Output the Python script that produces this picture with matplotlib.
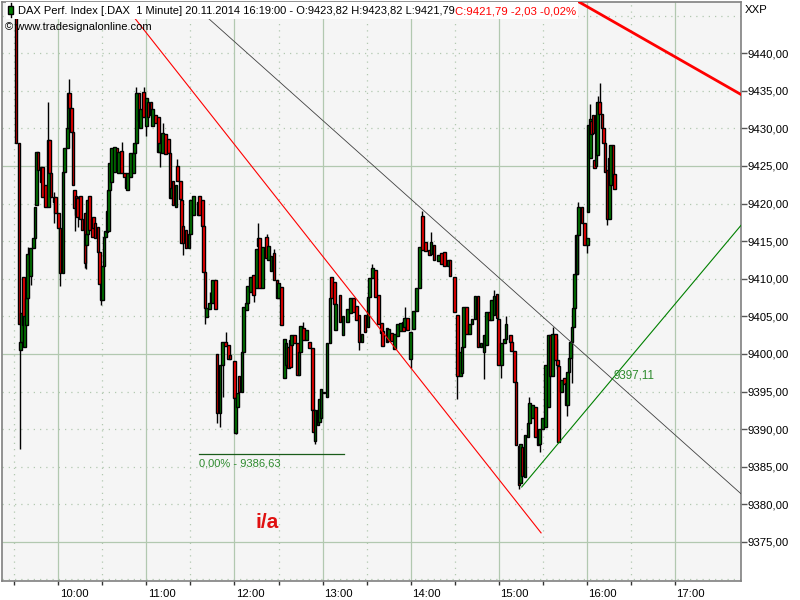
import matplotlib
matplotlib.use("Agg")
import matplotlib.pyplot as plt
import matplotlib.transforms as mtrans
from matplotlib.patches import Rectangle

# all times are minutes after 09:00
bar_minutes = [31,33,34,35,36,37,38,39,41,43, 44,45,46,48,49,51,53,54,55,57,
    58,60,61,63,64,66,66.5,67.5,69,70, 71,72,73,75,76,78,79,80,81,83,
    84,85,87,88,89,90,91,92,93,94, 95,96,98,100,101,103,105,106,107,109,
    111,112,113,115,116,118,120,121,123,124, 126,128,129,131,133,135,136,137,138,140,
    141,143,144,145,147,149,150,152,155,156, 158,159,160,161,163,165,167,168,170,172,
    174,176,177,180,180.5,182,183,185,186,188, 189,191,193,195,196,197,199,202,203,205,
    207,209,210,212,214,215,217,218,219,221, 223,224,225,227,229,231,233,234,235,237,
    238,239,241,243,245,246,248,249,252,254, 257,259,261,263,265,267,269,271,272,274,
    276,278,280,281,284,285,287,289,291,293, 295,296,298,300,302,304,306,308,310,313,
    314,316,319,321,323,326,327,330,332,334, 335,336,338,340,342,344,346,348,350,352,
    354,355,357,359,360,362,364,365,368,369, 371,372,374,375,376,378,380,381,383,385,
    387,388,390,392,394,395,397,399,400,401, 403,405,406,407,408,409,410,411,412,413,
    413.5,414.5,417,418.5,420.5,421,422.5,423.5,424.5,425.5, 426.5,427.5,429,430.5,431.5,432.5,434,435.5,436.5,438,
    439]
opens = [9452,9428,9400.5,9401.6,9410.2,9400.9,9403.8,9407.4,9410.4,9414.1, 9415.4,9419.8,9426.8,9422.8,9424.8,9422.5,9419.5,9428.4,9424,9420.9,
    9420.9,9418.7,9416.8,9410.7,9424.2,9427.4,9430,9434.7,9432.7,9429.5, 9421.8,9421,9420.8,9421,9418,9418.7,9414.5,9416,9421,9418,
    9418.2,9417.4,9416.9,9413.5,9409.3,9407.2,9411.7,9415.5,9416.2,9416.3, 9421.8,9422.8,9424.2,9427.4,9424,9427,9424,9423.4,9421.8,9423.5,
    9424,9426.7,9428,9434.7,9430,9434.8,9430.3,9433.5,9433.5,9430.3, 9431.8,9431.5,9426.8,9426.7,9429.2,9428.6,9426.7,9420.7,9423,9419.5,
    9425,9423,9420.5,9417,9416.5,9414.1,9416,9418.5,9418.5,9421, 9420.5,9417,9410.9,9404.9,9406,9406.8,9409.8,9400,9392.2,9398.5,
    9401.6,9401.2,9399.8,9399,9389.5,9393,9397,9394.9,9400.3,9405.9, 9406.8,9408.3,9410.5,9408.7,9414.4,9415.4,9408.7,9415.5,9412.5,9411,
    9413.4,9409.8,9407.4,9408.9,9396.8,9398.5,9400.9,9401.8,9401.2,9402.5, 9401.4,9397.2,9400.2,9403.4,9401.9,9401.6,9400.8,9392.5,9388.4,9390.6,
    9391,9391.5,9395,9394.3,9401.4,9410.2,9409.5,9403.2,9407.8,9402.5, 9404.3,9405.4,9407.4,9406.4,9405.2,9401.6,9405.2,9403.6,9407.6,9410.1,
    9411.1,9407.8,9404.1,9403,9403.4,9401.7,9402.8,9400.6,9402.4,9403, 9404.3,9403.6,9404.8,9399.3,9403.3,9405.7,9408.7,9418.3,9414.9,9413.8,
    9413.3,9414.5,9412.3,9413.4,9413.5,9411.7,9412.5,9410.2,9405.2,9397, 9397.4,9400.9,9406.2,9402.7,9404,9404.6,9407.7,9400.9,9400.2,9401.2,
    9405.6,9404.5,9405.2,9408,9404.6,9398.5,9401.4,9402,9402.5,9401.6, 9400.4,9396.2,9387.8,9382.8,9387.6,9383.6,9389,9390.8,9391.5,9392.9,
    9389.9,9388,9390,9390.3,9392.9,9402.5,9397,9402.6,9399.2,9398.4, 9395,9396.8,9396.1,9393.2,9397.6,9399.5,9401.6,9403.6,9406.1,9410.6,
    9410.6,9415.8,9419.5,9417.4,9414.5,9418.9,9426,9431,9431.8,9425.8, 9425,9426.4,9433.5,9431.9,9430,9428,9424.4,9418,9422.4,9427.8,
    9423.9]
closes = [9428,9404,9401.6,9405.4,9403.8,9405,9407.4,9413.3,9414.1,9415.4, 9419.5,9426.8,9424.4,9424.8,9420.9,9419.5,9428.4,9424,9420.9,9420.2,
    9418.7,9416.8,9410.7,9424.2,9427.4,9430,9434.7,9432.7,9429.5,9422.4, 9419.4,9418.5,9418.2,9418,9416.5,9412.1,9416,9420.5,9416.5,9415.5,
    9416.7,9415.4,9413.5,9409.3,9407.2,9411.7,9415.5,9416.4,9419,9421.8, 9425.4,9427.4,9427.5,9424.5,9426.8,9424,9423.5,9422,9424,9426.7,
    9426.7,9428,9434.7,9431,9432.6,9431.5,9434,9431.5,9431.8,9432.6, 9430.7,9426.8,9428,9429.4,9426.6,9426.7,9420.7,9422,9419.8,9422.5,
    9423,9420.6,9414.7,9414.7,9414.1,9416,9420.5,9421,9420.2,9418.5, 9417,9410.9,9406.1,9406.1,9406.8,9409.8,9406,9392.1,9398.5,9401.6,
    9401,9399.3,9399.3,9394.1,9394.1,9394.8,9395,9400.3,9406.2,9406.8, 9409,9410.2,9407.8,9414,9415.4,9408.7,9414.2,9412.7,9414.4,9413,
    9409.8,9407.4,9409.4,9403.8,9402,9401.5,9398.1,9398.2,9402.5,9401.4, 9397.2,9400.2,9403.7,9401.9,9403.2,9400.8,9392.5,9389.6,9392.5,9392.5,
    9394,9395.3,9394.8,9401.4,9407.4,9407.4,9406.6,9406.6,9404.2,9405, 9406,9407.4,9405.6,9404.5,9401.6,9402.7,9402.9,9407.6,9410.1,9411.4,
    9407.6,9404,9402.8,9401,9401.6,9403.3,9401.7,9402.6,9404,9404.1, 9403,9404.8,9403.2,9402.9,9405.7,9408.7,9414.2,9413.8,9413.7,9413.2,
    9414.9,9412.5,9413.2,9412,9411.7,9412.5,9410.3,9405.6,9397,9400.2, 9400.9,9406.2,9402.7,9404,9404.6,9407.7,9400.9,9401.4,9402.5,9405.6,
    9404.5,9407.2,9407.7,9404.8,9398.5,9401.4,9402,9404,9401.6,9400.4, 9396.2,9387.9,9382.6,9388,9383.8,9389.2,9390.8,9393.5,9393.2,9388.9,
    9387.9,9390,9391.5,9398.5,9402.5,9397,9402.6,9399.2,9398.5,9388.3, 9396.5,9396,9393.2,9397.6,9399.5,9401.6,9403.6,9406.1,9410.6,9415.8,
    9415.8,9419.5,9417.4,9414.5,9415.4,9430.4,9431.3,9429.2,9429.4,9424.7, 9431.8,9433.5,9431.9,9430,9428,9424.2,9418,9426,9427.8,9423.5,
    9421.9]

wick_minutes = [34,39,41,53,57,61,67,71,73,78,79,89,103,113,118,120,129,131,141,145,
    160,163,168,170,172,174,181,193,196,202,207,227,235,265,274,296,300,308,314,332,
    350,357,362,365,374,381,388,397,400,407,410,414.5,420.5,422.5,427.5,429,434]
wick_lows = [9387.3,9407.4,9409.1,9419.5,9417.4,9409,9430,9416.3,9416.9,9411.4,9411.3,9406.5,9424,9428,9431.5,9429,9424.8,9426.7,9423,9413.1,
    9404,9406,9390.8,9390.3,9394.3,9401,9389.3,9406.9,9414.4,9412.7,9409.8,9401.9,9388,9400.5,9411.4,9403.6,9398.1,9413.8,9413.3,9394,
    9396.7,9405.2,9396.8,9402,9382.1,9390.8,9387,9397,9398,9391.7,9396.1,9415.8,9413.4,9426,9426.4,9431.9,9417.2]
wick_highs = [9401.6,9414.2,9414.1,9433.5,9421.5,9416.8,9436.5,9421.8,9421,9418.7,9416,9409.3,9428.2,9435.5,9435.5,9434,9428,9430.7,9425.9,9417,
    9410.9,9408.2,9400,9398.5,9401.6,9402.9,9394.1,9410.5,9417.4,9416,9414,9404.2,9392.5,9405.2,9412,9406.3,9402.9,9419,9416.2,9405.2,
    9402.5,9408.5,9401.4,9405,9387.8,9394.3,9390,9403.6,9402,9396,9401.6,9420.2,9415.4,9433.3,9434.3,9436,9424.4]

price_ticks = [9375,9380,9385,9390,9395,9400,9405,9410,9415,9420,9425,9430,9435,9440]
hour_ticks = [60,120,180,240,300,360,420,480]
hour_labels = ["10:00","11:00","12:00","13:00","14:00","15:00","16:00","17:00"]
half_ticks = [30,90,150,210,270,330,390,450]
solid_prices = [9375,9400,9425]
dotted_prices = [9370,9380,9385,9390,9395,9405,9410,9415,9420,9430,9435,9440,9445]

# trend lines: (minutes, prices)
red_thin = ([103.3,389],[9446.8,9376.2])
red_bold = ([414.9,525.3],[9446.8,9434.5])
grey_line = ([149.7,525.3],[9446.8,9381.4])
green_line = ([375.8,525.3],[9382.3,9417.1])
low_line = ([155.8,254.7],[9386.63,9386.63])

GRID = "#b2c8b0"
UP = "#007a00"
DOWN = "#ff0000"

plt.rcParams['font.family'] = ['Liberation Sans', 'DejaVu Sans']
fig = plt.figure(figsize=(8,6),dpi=100,facecolor="white")
ax = fig.add_axes([2/800,1-581/600,739/800,579/600],facecolor="#f5f5f5")
ax.set_xlim(21.5,525.3)
ax.set_ylim(9369.8,9446.8)

ax.hlines(solid_prices,21.5,525.3,color=GRID,lw=0.9,zorder=1)
ax.hlines(dotted_prices,21.5,525.3,color=GRID,lw=0.9,linestyles=(0,(1,4)),zorder=1)
ax.vlines(hour_ticks,9369.8,9446.8,color=GRID,lw=0.9,zorder=1)
ax.vlines(half_ticks,9369.8,9446.8,color=GRID,lw=0.9,linestyles=(0,(1,4)),zorder=1)

ax.vlines(wick_minutes,wick_lows,wick_highs,color="black",lw=1,zorder=2)
for i in range(len(bar_minutes)):
    col = UP if closes[i]>=opens[i] else DOWN
    ax.add_patch(Rectangle((bar_minutes[i]-0.9,min(opens[i],closes[i])),1.8,abs(closes[i]-opens[i]),
                           facecolor=col,edgecolor="black",lw=1,zorder=3))

ax.plot(*red_thin,color="#ff0000",lw=0.8,zorder=4)
ax.plot(*red_bold,color="#ff0000",lw=2,zorder=4)
ax.plot(*grey_line,color="#404040",lw=0.6,zorder=4)
ax.plot(*green_line,color="#008000",lw=0.8,zorder=4)
ax.plot(*low_line,color="#1a5c1a",lw=0.9,zorder=4)

ax.text(155.8,9385.4,"0,00% - 9386,63",color="#2e8b2e",fontsize=8,va="center",ha="left",zorder=5)
ax.text(438.7,9397.1,"9397,11",color="#2e8b2e",fontsize=8.4,va="center",ha="left",zorder=5)
ax.text(194.6,9377.6,"i/a",color="#e01010",fontsize=15,fontweight="bold",va="center",ha="left",zorder=5)

ax.yaxis.tick_right()
ax.set_yticks(price_ticks)
ax.set_yticklabels([f"{p},00" for p in price_ticks],fontsize=8.2)
ax.tick_params(axis="y",length=4,width=1,color="#555555",pad=0.5)
ax.set_xticks(hour_ticks+half_ticks)
ax.set_xticklabels(hour_labels+[""]*len(half_ticks),fontsize=8.2)
ax.tick_params(axis="x",length=3,width=1,color="#333333",pad=2.5)
shift = mtrans.ScaledTranslation(2/100,0,fig.dpi_scale_trans)
for lab in ax.get_xticklabels():
    lab.set_ha("left")
    lab.set_transform(lab.get_transform()+shift)
for s in ax.spines.values():
    s.set_color("#808080")
    s.set_linewidth(1.2)

# header strip
ax.add_patch(Rectangle((6/800,1-19/600),572/800,17/600,transform=fig.transFigure,
                       facecolor="white",edgecolor="none",zorder=6,clip_on=False))
ax.add_patch(Rectangle((8/800,1-14/600),5/800,8/600,transform=fig.transFigure,
                       facecolor=UP,edgecolor="black",lw=1,zorder=7,clip_on=False))
ax.plot([10.5/800,10.5/800],[1-17/600,1-3/600],transform=fig.transFigure,color="black",lw=1,zorder=6.5,clip_on=False)
fig.text(18/800,1-11/600,"DAX Perf. Index [.DAX  1 Minute] 20.11.2014 16:19:00 - O:9423,82 H:9423,82 L:9421,79",
         fontsize=8.05,color="black",va="center",ha="left",zorder=8)
fig.text(455/800,1-11/600,"C:9421,79 -2,03 -0,02%",fontsize=8.2,color="#ff0000",va="center",ha="left",zorder=8)
fig.text(5/800,1-27/600,"© www.tradesignalonline.com",fontsize=8,color="black",va="center",ha="left",zorder=8)
fig.text(745/800,1-10/600,"XXP",fontsize=8.2,color="black",va="center",ha="left")

fig.savefig("out.png",dpi=100)
